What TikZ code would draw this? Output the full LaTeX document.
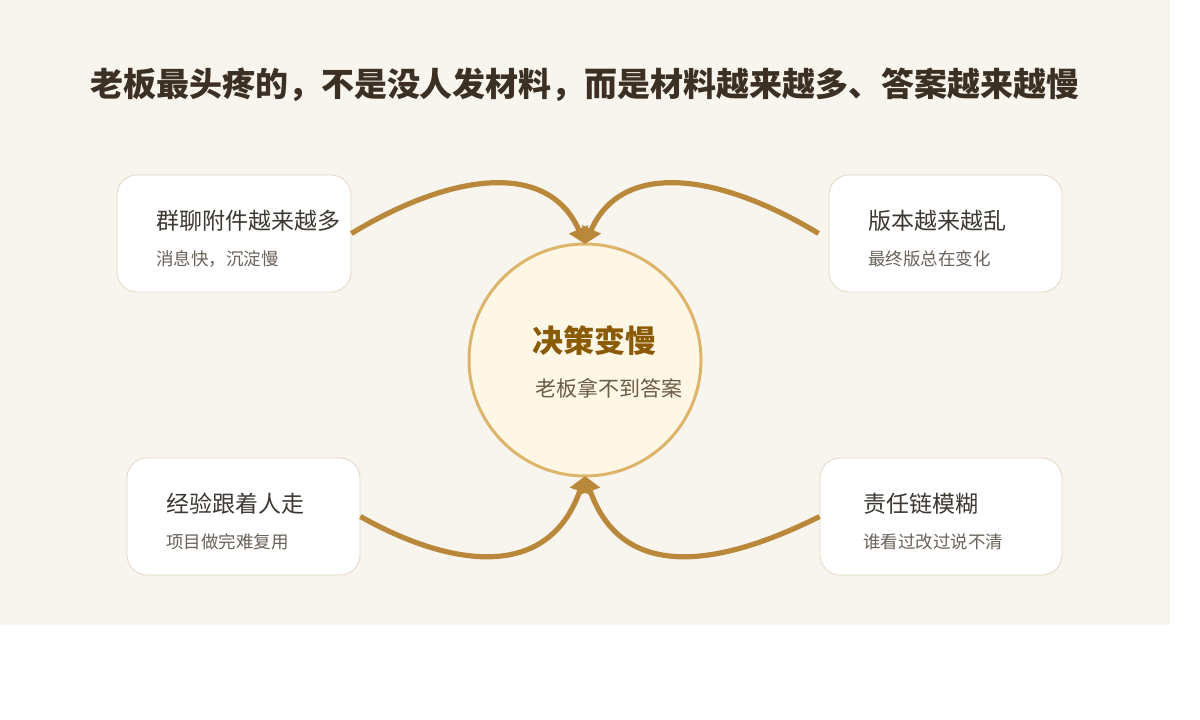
\documentclass[tikz,border=0pt]{standalone}
\usepackage{fontspec}
\setmainfont{Noto Sans CJK SC}
\usetikzlibrary{arrows.meta}
\definecolor{bgc}{HTML}{F8F5EE}
\definecolor{titlec}{HTML}{3B3023}
\definecolor{boxline}{HTML}{E3D7C2}
\definecolor{boxtext}{HTML}{3D3932}
\definecolor{subtext}{HTML}{6A6259}
\definecolor{circfill}{HTML}{FFF7E6}
\definecolor{circline}{HTML}{DDB56A}
\definecolor{ctitle}{HTML}{8A5A05}
\definecolor{csub}{HTML}{6B5B47}
\definecolor{arrc}{HTML}{BA883B}
\begin{document}
\begin{tikzpicture}[x=1pt,y=-1pt,
  card/.style={draw=boxline,line width=0.8pt,fill=white,rounded corners=20pt,minimum height=117pt,inner sep=0pt},
  cardtitle/.style={anchor=west,inner sep=0pt,text=boxtext,font=\fontsize{23}{26}\selectfont},
  cardsub/.style={anchor=west,inner sep=0pt,text=subtext,font=\fontsize{17.5}{20}\selectfont},
  link/.style={draw=arrc,line width=5.2pt,-{Triangle[width=20pt,length=16pt]}}
]
\useasboundingbox (0,0) rectangle (1200,720);
\fill[white] (0,0) rectangle (1200,720);
\fill[bgc] (0,0) rectangle (1170,625);

\node[inner sep=0pt,text=titlec,font=\fontsize{33}{36}\selectfont\bfseries] (title) at (585,85) {老板最头疼的，不是没人发材料，而是材料越来越多、答案越来越慢};

\node[card,minimum width=234pt] (tl) at (234,233.5) {};
\node[card,minimum width=233pt] (tr) at (945.5,233.5) {};
\node[card,minimum width=233pt] (bl) at (243.5,516.5) {};
\node[card,minimum width=242pt] (br) at (941,516.5) {};

\node[cardtitle] (tlt) at (156,221) {群聊附件越来越多};
\node[cardsub] (tls) at (156,259) {消息快，沉淀慢};
\node[cardtitle] (trt) at (868,221) {版本越来越乱};
\node[cardsub] (trs) at (868,259) {最终版总在变化};
\node[cardtitle] (blt) at (166,504) {经验跟着人走};
\node[cardsub] (bls) at (166,542) {项目做完难复用};
\node[cardtitle] (brt) at (863,504) {责任链模糊};
\node[cardsub] (brs) at (863,542) {谁看过改过说不清};

\node[circle,draw=circline,line width=3pt,fill=circfill,minimum size=232pt,inner sep=0pt,outer sep=0pt] (c) at (585,360) {};
\node[anchor=west,inner sep=0pt,text=ctitle,font=\fontsize{31}{34}\selectfont\bfseries] (ct) at (532,341) {决策变慢};
\node[anchor=west,inner sep=0pt,text=csub,font=\fontsize{21}{24}\selectfont] (cs) at (535,388) {老板拿不到答案};

\coordinate (trs0) at ([xshift=-10pt]tr.west);
\draw[link] (tl.east) .. controls (451,173) and (548,160) .. (c.north);
\draw[link] (trs0) .. controls (719,173) and (622,160) .. (c.north);
\draw[link] (bl.east) .. controls (450,567) and (548,582) .. (c.south);
\draw[link] (br.west) .. controls (719,567) and (622,582) .. (c.south);
\end{tikzpicture}
\end{document}
